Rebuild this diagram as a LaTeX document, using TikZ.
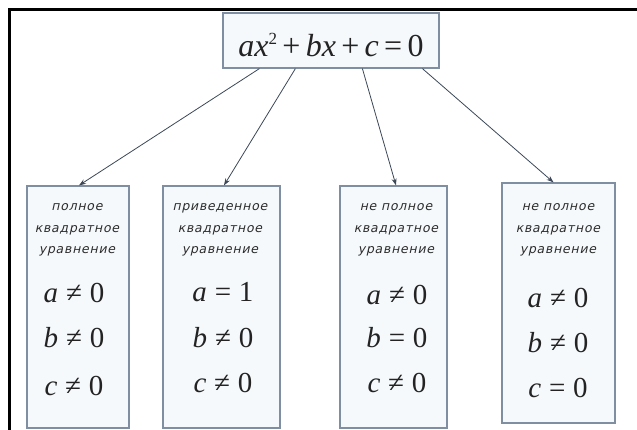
\documentclass[tikz,border=0pt]{standalone}
\usepackage{fontspec}
\setmainfont{Liberation Serif}
\newfontfamily\lblfont[LetterSpace=6,FakeSlant=0.22]{DejaVu Sans}
\usetikzlibrary{arrows.meta}
\definecolor{boxline}{RGB}{128,142,162}
\definecolor{boxfill}{RGB}{246,249,252}
\definecolor{arrowc}{RGB}{60,72,88}
\definecolor{txt}{RGB}{35,35,35}
\definecolor{lbltxt}{RGB}{45,45,45}
\newcommand{\cnd}[3]{\textit{#1}\hspace{0.27em}#2\hspace{0.27em}#3}
\begin{document}
\begin{tikzpicture}[x=1pt,y=-1pt,
  card/.style={draw=boxline, fill=boxfill, line width=1.2pt, inner sep=0pt},
  lbl/.style={align=center, text=lbltxt, inner sep=0pt,
    font=\lblfont\fontsize{12.5}{21.7}\selectfont},
  cond/.style={text=txt, inner sep=0pt, font=\fontsize{29}{29}\selectfont},
  link/.style={draw=arrowc, line width=0.8pt, -{Stealth[length=7pt,width=5pt]}}]
\useasboundingbox (0,0) rectangle (637,430);
\clip (0,0) rectangle (637,430);
\fill[white] (0,0) rectangle (637,430);
\draw[line width=3pt] (9.5,445) -- (9.5,9.5) -- (650,9.5);

% top box
\node[card, minimum width=216pt, minimum height=55pt] (top) at (331,40.5) {};
\node[text=txt, inner sep=0pt, font=\fontsize{32}{32}\selectfont] (eq) at (331,45)
  {\textit{ax}\raisebox{0.85ex}{\fontsize{17}{17}\selectfont 2}\,+\,\textit{bx}\,+\,\textit{c}\,=\,0};

% bottom boxes
\node[card, minimum width=102pt, minimum height=242pt] (b1) at (78,307) {};
\node[card, minimum width=117pt, minimum height=242pt] (b2) at (221.5,307) {};
\node[card, minimum width=107pt, minimum height=242pt] (b3) at (393.5,307) {};
\node[card, minimum width=113pt, minimum height=240pt] (b4) at (558.5,303) {};

% labels
\node[lbl] (l1) at (77,230) {полное\\квадратное\\уравнение};
\node[lbl] (l2) at (220,230) {приведенное\\квадратное\\уравнение};
\node[lbl] (l3) at (396,230) {не полное\\квадратное\\уравнение};
\node[lbl] (l4) at (558,230) {не полное\\квадратное\\уравнение};

% conditions
\node[cond] (a1) at (74,293) {\cnd{a}{≠}{0}};
\node[cond] (bb1) at (74,338) {\cnd{b}{≠}{0}};
\node[cond] (c1) at (74,386) {\cnd{c}{≠}{0}};

\node[cond] (a2) at (223,292) {\cnd{a}{=}{1}};
\node[cond] (bb2) at (223,338) {\cnd{b}{≠}{0}};
\node[cond] (c2) at (223,383) {\cnd{c}{≠}{0}};

\node[cond] (a3) at (397,295) {\cnd{a}{≠}{0}};
\node[cond] (bb3) at (397,338) {\cnd{b}{=}{0}};
\node[cond] (c3) at (397,383) {\cnd{c}{≠}{0}};

\node[cond] (a4) at (558,298) {\cnd{a}{≠}{0}};
\node[cond] (bb4) at (558,343) {\cnd{b}{≠}{0}};
\node[cond] (c4) at (558,388) {\cnd{c}{=}{0}};

% connectors
\draw[link] ([xshift=37pt]top.south west) -- ([xshift=1pt]b1.north);
\draw[link] ([xshift=73pt]top.south west) -- ([xshift=2.5pt]b2.north);
\draw[link] ([xshift=140pt]top.south west) -- ([xshift=2.5pt]b3.north);
\draw[link] ([xshift=200pt]top.south west) -- ([xshift=-5pt]b4.north);
\end{tikzpicture}
\end{document}
